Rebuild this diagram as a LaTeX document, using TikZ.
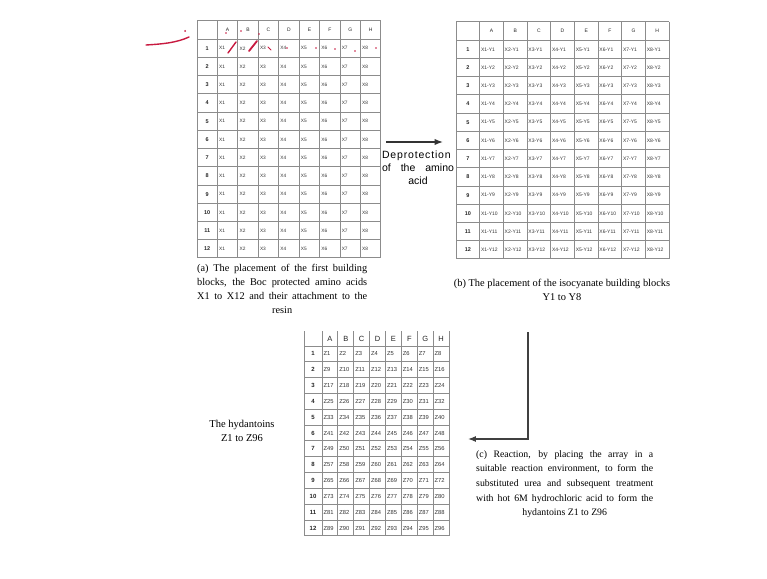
\documentclass[tikz,border=0pt]{standalone}
\usepackage{fontspec}
\setmainfont{Liberation Serif}
\setsansfont{Liberation Sans}
\usetikzlibrary{arrows.meta,positioning}
\definecolor{gridline}{HTML}{8C8C8C}
\definecolor{pen}{HTML}{C81A40}

\begin{document}
\begin{tikzpicture}[x=1pt,y=-1pt,>=Latex,
  rule/.style={draw=gridline,line width=1pt},
  cell/.style={anchor=west,inner sep=0pt,text=black!80},
  hdr/.style={inner sep=0pt,text=black!85},
  captext/.style={align=justify,inner sep=0pt,anchor=north west},
  penline/.style={draw=pen,line width=1.4pt,line cap=round}]
  \useasboundingbox[fill=white] (0,0) rectangle (767,578);

  % (a) first building blocks X1..X8
  \foreach \r in {0,...,13}
    \draw[rule] (197,{21+\r*18.23}) -- (381,{21+\r*18.23});
  \foreach \c in {0,...,9}
    \draw[rule] ({197+\c*20.44},21) -- ({197+\c*20.44},258);
  \foreach \l [count=\c] in {A,...,H}
    \node[hdr,font=\sffamily\fontsize{5}{6}\selectfont] (a-h\c) at ({197+(\c+0.5)*20.44},{21+0.5*18.23}) {\l};
  \foreach \r in {1,...,12} {
    \node[hdr,font=\sffamily\bfseries\fontsize{5.5}{6}\selectfont] (a-r\r) at ({197+0.5*20.44},{21+(\r+0.5)*18.23}) {\r};
    \foreach \c in {1,...,8}
      \node[cell,font=\sffamily\fontsize{4.8}{6}\selectfont] (a-\r-\c) at ({197+\c*20.44+1.5},{21+(\r+0.5)*18.23}) {X\c};
  }
  \coordinate (gridA-e) at (381,142);

  % (b) isocyanate blocks
  \foreach \r in {0,...,13}
    \draw[rule] (456,{22+\r*18.23}) -- (669,{22+\r*18.23});
  \foreach \c in {0,...,9}
    \draw[rule] ({456+\c*23.67},22) -- ({456+\c*23.67},259);
  \foreach \l [count=\c] in {A,...,H}
    \node[hdr,font=\sffamily\fontsize{5}{6}\selectfont] (b-h\c) at ({456+(\c+0.5)*23.67},{22+0.5*18.23}) {\l};
  \foreach \r in {1,...,12} {
    \node[hdr,font=\sffamily\bfseries\fontsize{5.5}{6}\selectfont] (b-r\r) at ({456+0.5*23.67},{22+(\r+0.5)*18.23}) {\r};
    \foreach \c in {1,...,8}
      \node[cell,font=\sffamily\fontsize{5}{6}\selectfont] (b-\r-\c) at ({456+\c*23.67+1.2},{22+(\r+0.5)*18.23}) {X\c-Y\r};
  }
  \coordinate (gridB-w) at (456,142);

  % (c) hydantoins Z1..Z96
  \foreach \r in {0,...,12}
    \draw[rule] (304,{346+\r*15.83}) -- (449,{346+\r*15.83});
  \draw[rule] (304,331) -- (304,536);
  \foreach \c in {0,...,8}
    \draw[rule] ({322+\c*15.88},331) -- ({322+\c*15.88},536);
  \foreach \l [count=\c] in {A,...,H}
    \node[hdr,font=\sffamily\fontsize{7.5}{8}\selectfont] (c-h\c) at ({322+(\c-0.5)*15.88},338.5) {\l};
  \foreach \r in {1,...,12} {
    \node[hdr,font=\sffamily\bfseries\fontsize{6}{7}\selectfont] (c-r\r) at (313,{346+(\r-0.5)*15.83}) {\r};
    \foreach \c in {1,...,8} {
      \pgfmathtruncatemacro\z{(\r-1)*8+\c}
      \node[cell,font=\sffamily\fontsize{5.8}{7}\selectfont] (c-\r-\c) at ({322+(\c-1)*15.88+1.3},{346+(\r-0.5)*15.83}) {Z\z};
    }
  }
  \coordinate (gridC-e) at (449,439);

  % step arrows
  \draw[->,line width=1.2pt,black!80] ([xshift=5pt]gridA-e) -- ([xshift=-13pt]gridB-w);
  \node[font=\sffamily\fontsize{10.5}{13}\selectfont,align=justify,text width=72pt,inner sep=0pt,anchor=north] (deprot) at (418,151)
    {{\addfontfeatures{LetterSpace=8}Deprotection}\linebreak of\hfill the\hfill amino\par{\centering acid\par}};

  \node[captext,text width=170pt,font=\fontsize{10.3}{14}\selectfont] (capA) at (197,264)
    {\parfillskip=0pt (a) The placement of the first building\linebreak blocks, the Boc protected amino acids\linebreak X1 to X12 and their attachment to the\par{\centering resin\par}};
  \node[align=center,inner sep=0pt,font=\fontsize{10.4}{14.5}\selectfont] (capB) at (562,290)
    {(b) The placement of the isocyanate building blocks\\ Y1 to Y8};
  \node[captext,text width=177pt,font=\fontsize{9.8}{14.7}\selectfont] (capC) at (476,450)
    {\parfillskip=0pt (c) Reaction, by placing the array in a\linebreak suitable reaction environment, to form the\linebreak substituted urea and subsequent treatment\linebreak with hot 6M hydrochloric acid to form the\par{\centering hydantoins Z1 to Z96\par}};
  \node[align=center,inner sep=0pt,font=\fontsize{10.5}{13.5}\selectfont] (hyd) at (242,431)
    {The hydantoins\\ Z1 to Z96};

  \coordinate (turn) at (528,332);
  \draw[->,line width=1.1pt,black!75] (turn) |- ([xshift=19pt]gridC-e);

  % pen marks
  \draw[penline] (146,45) .. controls (162,44) and (176,43) .. (189,37);
  \fill[pen] (185,31) circle (1pt);
  \draw[penline] (228,53) -- (236,42);
  \draw[penline,line width=1.8pt] (249,51) -- (257,41);
  \draw[penline,line width=1pt] (268,47) -- (271,50);
  \fill[pen] (287,48) circle (0.9pt) (316,48) circle (0.9pt) (335,49) circle (0.9pt)
    (355,51) circle (0.9pt) (376,48) circle (0.9pt) (226,33) circle (0.8pt)
    (241,31) circle (0.8pt) (259,34) circle (0.8pt);
\end{tikzpicture}
\end{document}
